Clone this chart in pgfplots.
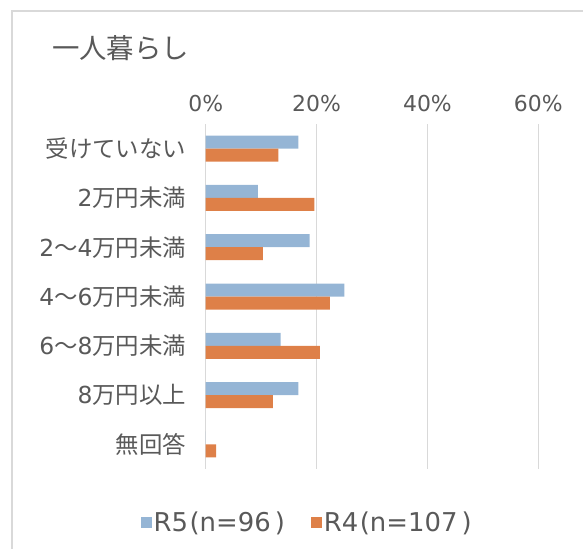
\documentclass[border=0pt]{standalone}
\usepackage{pgfplots}
\pgfplotsset{compat=1.18}
\usepackage{fontspec}
\setmainfont{Noto Sans CJK JP}
\newfontfamily\lat{DejaVu Sans}
\definecolor{txt}{HTML}{595959}
\definecolor{gridc}{HTML}{D9D9D9}
\definecolor{cR5}{HTML}{95B5D5}
\definecolor{cR4}{HTML}{DE8048}
\begin{document}
\begin{tikzpicture}
\useasboundingbox (0,0) rectangle (583bp,-549bp);
\draw[gridc, line width=1.3bp] (12bp,-549bp) -- (12bp,-11bp) -- (583bp,-11bp);
\node[anchor=west, text=txt, font=\fontsize{27.5}{32}\selectfont, inner sep=0pt] at (52bp,-48bp) {一人暮らし};
\begin{axis}[
  at={(205.7bp,-469bp)}, anchor=south west,
  scale only axis, width=332.6bp, height=345bp,
  xmin=0, xmax=60, ymin=-0.5, ymax=6.5, y dir=reverse,
  xtick={0,20,40,60},
  xticklabel pos=upper,
  xticklabel={\pgfmathprintnumber{\tick}\%},
  xticklabel style={text=txt, font=\lat\fontsize{22}{26}\selectfont, yshift=9bp},
  /pgf/number format/assume math mode=true,
  ytick={0,...,6},
  yticklabels={受けていない,{{\lat 2}万円未満},{{\lat 2}～{\lat 4}万円未満},{{\lat 4}～{\lat 6}万円未満},{{\lat 6}～{\lat 8}万円未満},{{\lat 8}万円以上},無回答},
  yticklabel style={text=txt, font=\fontsize{23.5}{27}\selectfont, xshift=-16bp},
  major tick length=0pt,
  axis line style={draw=none},
  xmajorgrids, grid style={gridc, line width=1.3bp},
  xbar, bar width=13bp,
  legend columns=2,
  legend style={at={(0.305,-0.154)}, anchor=center, draw=none, fill=none,
    font=\lat\fontsize{26}{30}\selectfont, text=txt,
    /tikz/every even column/.append style={column sep=24bp}},
  legend image code/.code={\fill[#1] (0bp,-5.5bp) rectangle (11bp,5.5bp);},
]
\addplot[fill=cR5, draw=none, bar shift=6.5bp] coordinates {
(16.7,0) (9.4,1) (18.75,2) (25.0,3) (13.5,4) (16.7,5) (0,6)};
\addplot[fill=cR4, draw=none, bar shift=-6.5bp] coordinates {
(13.1,0) (19.6,1) (10.3,2) (22.4,3) (20.6,4) (12.1,5) (1.9,6)};
\legend{R5\kern1.5bp(n=96\kern4bp), R4\kern1.5bp(n=107\kern4bp)}
\end{axis}
\end{tikzpicture}
\end{document}
